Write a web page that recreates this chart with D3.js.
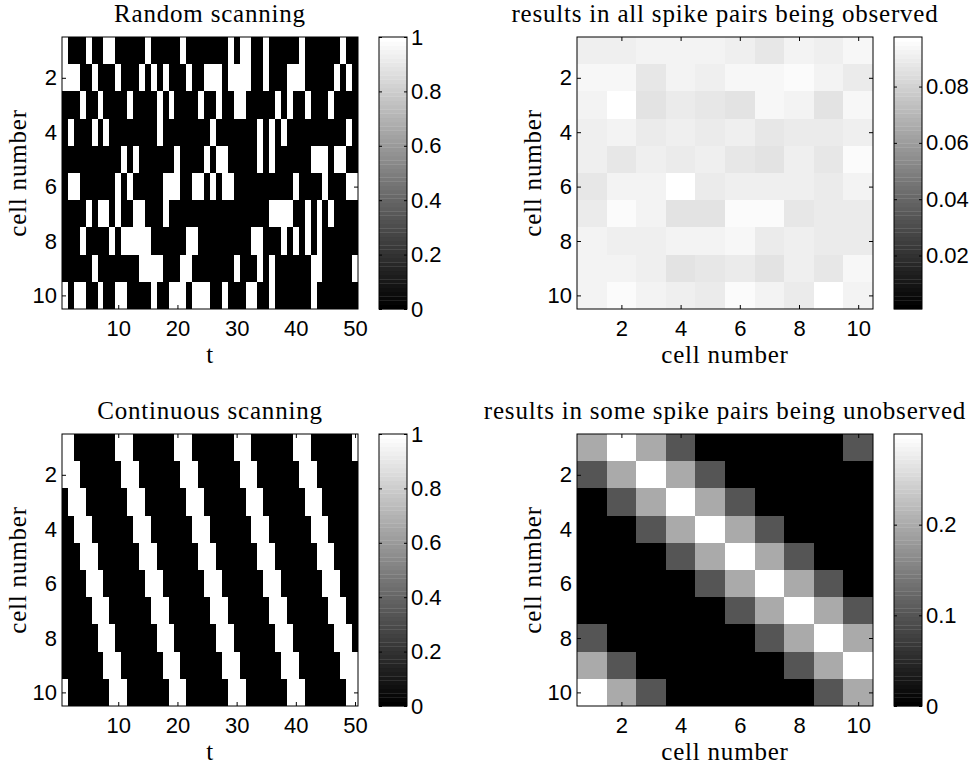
<!DOCTYPE html>
<meta charset="utf-8">
<script src="https://d3js.org/d3.v7.min.js"></script>
<style>
  body { margin: 0; background: #fff; }
  .tick text { font-family: "Liberation Sans", Arial, Helvetica, sans-serif; font-size: 22px; fill: #000; }
</style>
<body>
<div id="chart"></div>
<script>
// ---- data ----
// random scanning: 10 cells x 50 time steps (1 = observed)
var randomScan = [
  "10001001100000100000100000001011001000001000000100",
  "11100100010001010100010011101111001000111000001010",
  "00010010000100001010000100100110000010100100010000",
  "01000101000000001000000001000000010101000000000010",
  "00000000001010000001000010110000010100000011101100",
  "01100000010100000111001101011000000000010000100011",
  "00001011010011000100000000000000000111100101010000",
  "00010000101111100000011000000000110001010101000000",
  "00000100000001111000110000000100010100000011000001",
  "10110010011000010011101110010001100100000010000000"
];

// continuous scanning: 10 cells x 50 time steps
var continuousScan = [
  "11000000011100000001110000000111000000011100000001",
  "11100000001110000000111000000011100000001110000000",
  "01110000000111000000011100000001110000000111000000",
  "00111000000011100000001110000000111000000011100000",
  "00011100000001110000000111000000011100000001110000",
  "00001110000000111000000011100000001110000000111000",
  "00000111000000011100000001110000000111000000011100",
  "00000011100000001110000000111000000011100000001110",
  "00000001110000000111000000011100000001110000000111",
  "10000000111000000011100000001110000000111000000011"
];

// fraction of time each spike pair is observed, random scanning
var pairsRandom = [
  [0.0912, 0.0912, 0.0927, 0.0927, 0.0927, 0.0912, 0.0881, 0.0927, 0.0904, 0.0938],
  [0.0938, 0.0938, 0.0881, 0.0927, 0.0912, 0.0938, 0.0938, 0.0953, 0.0927, 0.0900],
  [0.0927, 0.0976, 0.0866, 0.0893, 0.0881, 0.0866, 0.0938, 0.0927, 0.0866, 0.0938],
  [0.0908, 0.0927, 0.0893, 0.0912, 0.0900, 0.0912, 0.0881, 0.0893, 0.0893, 0.0915],
  [0.0915, 0.0881, 0.0915, 0.0900, 0.0915, 0.0881, 0.0866, 0.0912, 0.0881, 0.0957],
  [0.0881, 0.0927, 0.0927, 0.0965, 0.0900, 0.0904, 0.0904, 0.0915, 0.0893, 0.0919],
  [0.0893, 0.0946, 0.0927, 0.0866, 0.0866, 0.0946, 0.0946, 0.0881, 0.0900, 0.0893],
  [0.0927, 0.0912, 0.0912, 0.0927, 0.0927, 0.0938, 0.0893, 0.0912, 0.0893, 0.0900],
  [0.0927, 0.0927, 0.0904, 0.0866, 0.0881, 0.0893, 0.0866, 0.0912, 0.0881, 0.0938],
  [0.0927, 0.0946, 0.0927, 0.0912, 0.0900, 0.0957, 0.0927, 0.0893, 0.0976, 0.0927]
];

// fraction of time each spike pair is observed, continuous scanning
var pairsContinuous = [
  [0.2, 0.3, 0.2, 0.1, 0, 0, 0, 0, 0, 0.1],
  [0.1, 0.2, 0.3, 0.2, 0.1, 0, 0, 0, 0, 0],
  [0, 0.1, 0.2, 0.3, 0.2, 0.1, 0, 0, 0, 0],
  [0, 0, 0.1, 0.2, 0.3, 0.2, 0.1, 0, 0, 0],
  [0, 0, 0, 0.1, 0.2, 0.3, 0.2, 0.1, 0, 0],
  [0, 0, 0, 0, 0.1, 0.2, 0.3, 0.2, 0.1, 0],
  [0, 0, 0, 0, 0, 0.1, 0.2, 0.3, 0.2, 0.1],
  [0.1, 0, 0, 0, 0, 0, 0.1, 0.2, 0.3, 0.2],
  [0.2, 0.1, 0, 0, 0, 0, 0, 0.1, 0.2, 0.3],
  [0.3, 0.2, 0.1, 0, 0, 0, 0, 0, 0.1, 0.2]
];

var timeTicks = [10, 20, 30, 40, 50];
var cellTicks = [2, 4, 6, 8, 10];
var binaryBarTicks = [0, 0.2, 0.4, 0.6, 0.8, 1];
var randomBarTicks = [0.02, 0.04, 0.06, 0.08];
var contBarTicks = [0, 0.1, 0.2];

// ---- layout ----
var plotW = 296, plotH = 272;
var serif = '"Liberation Serif", "Times New Roman", Times, serif';
var svg = d3.select("#chart").append("svg")
    .attr("width", 980)
    .attr("height", 765);

// 64 level gray colormap like matlab
var grays = d3.range(64).map(function(i) {
  var g = Math.round(i / 63 * 255);
  return d3.rgb(g, g, g).toString();
});

function toMatrix(rows) {
  return rows.map(function(r) { return r.split("").map(Number); });
}

function addLabel(sel, txt) {
  return sel.append("text")
      .attr("text-anchor", "middle")
      .style("font-family", serif)
      .style("font-size", "25px")
      .style("letter-spacing", "0.8px")
      .style("fill", "#000")
      .text(txt);
}

var panels = [
  { left: 62, top: 37, data: toMatrix(randomScan), xTicks: timeTicks, xLabel: "t",
    title: "Random scanning", cDomain: [0, 1], cTicks: binaryBarTicks },
  { left: 577, top: 37, data: pairsRandom, xTicks: cellTicks, xLabel: "cell number",
    title: "results in all spike pairs being observed", cDomain: [0.001, 0.0976], cTicks: randomBarTicks },
  { left: 62, top: 434, data: toMatrix(continuousScan), xTicks: timeTicks, xLabel: "t",
    title: "Continuous scanning", cDomain: [0, 1], cTicks: binaryBarTicks },
  { left: 577, top: 434, data: pairsContinuous, xTicks: cellTicks, xLabel: "cell number",
    title: "results in some spike pairs being unobserved", cDomain: [0, 0.3], cTicks: contBarTicks }
];

panels.forEach(function(p) {
  var nRows = p.data.length, nCols = p.data[0].length;

  var x = d3.scaleLinear().domain([0.5, nCols + 0.5]).range([p.left, p.left + plotW]);
  var y = d3.scaleLinear().domain([0.5, nRows + 0.5]).range([p.top, p.top + plotH]);
  var color = d3.scaleQuantize().domain(p.cDomain).range(grays);

  var g = svg.append("g");

  // cells
  var cells = [];
  p.data.forEach(function(row, i) {
    row.forEach(function(v, j) { cells.push({ r: i + 1, c: j + 1, v: v }); });
  });
  g.selectAll("rect.cell")
    .data(cells)
    .enter().append("rect")
      .attr("class", "cell")
      .attr("x", function(d) { return x(d.c - 0.5); })
      .attr("y", function(d) { return y(d.r - 0.5); })
      .attr("width", x(1.5) - x(0.5) + 0.3)
      .attr("height", y(1.5) - y(0.5) + 0.3)
      .attr("fill", function(d) { return color(d.v); })
      .attr("shape-rendering", "crispEdges");

  // axes, ticks pointing inward
  g.append("g")
      .attr("transform", "translate(0," + (p.top + plotH) + ")")
      .call(d3.axisBottom(x).tickValues(p.xTicks).tickSizeInner(-4).tickSizeOuter(0).tickPadding(11));
  g.append("g")
      .attr("transform", "translate(0," + p.top + ")")
      .call(d3.axisTop(x).tickValues(p.xTicks).tickSizeInner(-4).tickSizeOuter(0).tickFormat(""));
  g.append("g")
      .attr("transform", "translate(" + p.left + ",0)")
      .call(d3.axisLeft(y).tickValues(cellTicks).tickSizeInner(-4).tickSizeOuter(0).tickPadding(5));
  g.append("g")
      .attr("transform", "translate(" + (p.left + plotW) + ",0)")
      .call(d3.axisRight(y).tickValues(cellTicks).tickSizeInner(-4).tickSizeOuter(0).tickFormat(""));
  g.selectAll(".domain").remove();

  g.append("rect")
      .attr("x", p.left).attr("y", p.top)
      .attr("width", plotW).attr("height", plotH)
      .attr("fill", "none").attr("stroke", "#000").attr("stroke-width", 1);

  // title and labels
  addLabel(g, p.title)
      .attr("x", p.left + plotW / 2)
      .attr("y", p.top - 15);
  addLabel(g, p.xLabel)
      .attr("x", p.left + plotW / 2)
      .attr("y", p.top + plotH + 54);
  addLabel(g, "cell number")
      .attr("transform", "translate(" + (p.left - 36) + "," + (p.top + plotH / 2) + ") rotate(-90)");

  // colorbar
  var cbX = p.left + 317, cbW = 28;
  var cb = d3.scaleLinear().domain(p.cDomain).range([p.top + plotH, p.top]);
  var step = (p.cDomain[1] - p.cDomain[0]) / 64;
  g.selectAll("rect.band")
    .data(grays)
    .enter().append("rect")
      .attr("class", "band")
      .attr("x", cbX)
      .attr("y", function(d, i) { return cb(p.cDomain[0] + (i + 1) * step); })
      .attr("width", cbW)
      .attr("height", function(d, i) { return cb(p.cDomain[0] + i * step) - cb(p.cDomain[0] + (i + 1) * step) + 0.3; })
      .attr("fill", function(d) { return d; });

  g.append("g")
      .attr("transform", "translate(" + (cbX + cbW) + ",0)")
      .call(d3.axisRight(cb).tickValues(p.cTicks).tickFormat(d3.format("~g"))
        .tickSizeInner(-3).tickSizeOuter(0).tickPadding(4));
  g.append("g")
      .attr("transform", "translate(" + cbX + ",0)")
      .call(d3.axisLeft(cb).tickValues(p.cTicks).tickFormat("")
        .tickSizeInner(-3).tickSizeOuter(0));
  g.selectAll(".domain").remove();

  g.append("rect")
      .attr("x", cbX).attr("y", p.top)
      .attr("width", cbW).attr("height", plotH)
      .attr("fill", "none").attr("stroke", "#000").attr("stroke-width", 1);
});
</script>
</body>
